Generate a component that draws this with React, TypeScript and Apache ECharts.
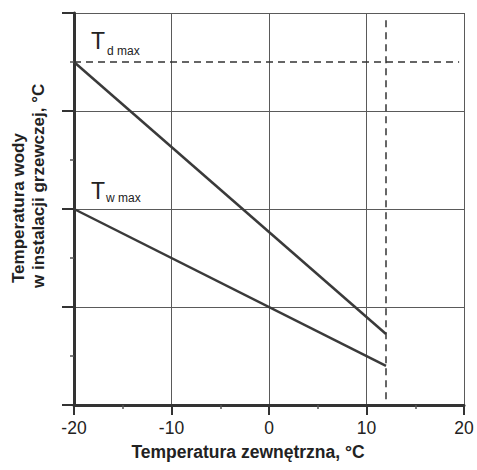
import React, { useEffect, useRef } from "react";
import * as echarts from "echarts";

const xTicks = [-20, -10, 0, 10, 20];
const tdLine = [[-20, 90], [12, 34.5]];
const twLine = [[-20, 60], [12, 28]];
const tdMaxDashed = [[-20, 90], [19.5, 90]];
const tEndDashed = [[12, 98.5], [12, 20]];
const xTitle = "Temperatura zewnętrzna, °C";
const yTitle1 = "Temperatura wody";
const yTitle2 = "w instalacji grzewczej, °C";

const FONT = "'Liberation Sans', Arial, sans-serif";
const INK = "#333";

export default function App() {
  const ref = useRef<HTMLDivElement>(null);
  useEffect(() => {
    if (!ref.current) return;
    const chart = echarts.init(ref.current, null, { renderer: "svg" });
    chart.setOption({
      animation: false,
      backgroundColor: "#fff",
      grid: { left: 74, right: 13, top: 13, bottom: 65 },
      xAxis: {
        type: "value",
        min: -20,
        max: 20,
        interval: 10,
        axisLine: { show: true, onZero: false, lineStyle: { color: INK, width: 3 } },
        axisTick: { show: true, length: 10, lineStyle: { color: INK, width: 2 } },
        minorTick: { show: true, splitNumber: 2, length: 4, lineStyle: { color: "#555", width: 1.5 } },
        axisLabel: {
          fontFamily: FONT,
          fontSize: 17.5,
          color: "#222",
          margin: 14,
          formatter: (v: number) => (xTicks.includes(v) ? String(v) : ""),
        },
        splitLine: { show: true, lineStyle: { color: "#5a5a5a", width: 1 } },
      },
      yAxis: {
        type: "value",
        min: 20,
        max: 100,
        interval: 20,
        axisLine: { show: true, onZero: false, lineStyle: { color: INK, width: 3 } },
        axisTick: { show: true, length: 12, lineStyle: { color: INK, width: 2 } },
        minorTick: { show: true, splitNumber: 2, length: 4, lineStyle: { color: "#555", width: 1.5 } },
        axisLabel: { show: false },
        splitLine: { show: true, lineStyle: { color: "#5a5a5a", width: 1 } },
      },
      series: [
        {
          type: "line",
          data: tdLine,
          symbol: "none",
          lineStyle: { color: "#3a3a3a", width: 2.5 },
        },
        {
          type: "line",
          data: twLine,
          symbol: "none",
          lineStyle: { color: "#3a3a3a", width: 2.5 },
        },
        {
          type: "line",
          data: tdMaxDashed,
          symbol: "none",
          lineStyle: { color: INK, width: 1.5, type: [7, 5] },
        },
        {
          type: "line",
          data: tEndDashed,
          symbol: "none",
          lineStyle: { color: INK, width: 1.5, type: [7, 5] },
        },
      ],
      graphic: [
        {
          type: "text",
          x: 91,
          y: 41,
          style: { text: "T", fontFamily: FONT, fontSize: 23, fill: "#222", verticalAlign: "middle" },
        },
        {
          type: "text",
          x: 107,
          y: 51,
          style: { text: "d max", fontFamily: FONT, fontSize: 12, fill: "#222", verticalAlign: "middle" },
        },
        {
          type: "text",
          x: 91,
          y: 191,
          style: { text: "T", fontFamily: FONT, fontSize: 23, fill: "#222", verticalAlign: "middle" },
        },
        {
          type: "text",
          x: 106,
          y: 198,
          style: { text: "w max", fontFamily: FONT, fontSize: 12, fill: "#222", verticalAlign: "middle" },
        },
        {
          type: "text",
          x: 248,
          y: 452,
          style: {
            text: xTitle,
            fontFamily: FONT,
            fontSize: 17.5,
            fontWeight: "bold",
            fill: "#222",
            align: "center",
            verticalAlign: "middle",
          },
        },
        {
          type: "text",
          x: 18,
          y: 283,
          rotation: Math.PI / 2,
          style: {
            text: yTitle1,
            fontFamily: FONT,
            fontSize: 17,
            fontWeight: "bold",
            fill: "#222",
            align: "left",
            verticalAlign: "middle",
          },
        },
        {
          type: "text",
          x: 38,
          y: 288,
          rotation: Math.PI / 2,
          style: {
            text: yTitle2,
            fontFamily: FONT,
            fontSize: 17,
            fontWeight: "bold",
            fill: "#222",
            align: "left",
            verticalAlign: "middle",
          },
        },
      ],
    });
    return () => chart.dispose();
  }, []);
  return <div ref={ref} style={{ width: 477, height: 470, position: "absolute", left: 0, top: 0 }} />;
}
